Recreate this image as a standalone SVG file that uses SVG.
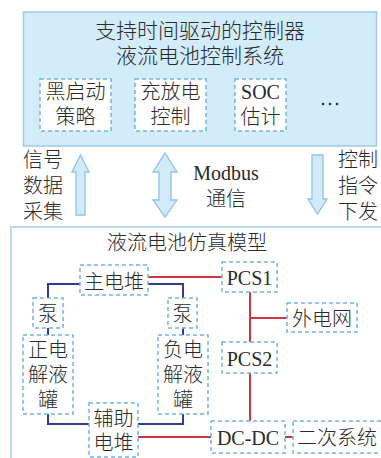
<svg xmlns="http://www.w3.org/2000/svg" width="381" height="458" viewBox="0 0 381 458">
<style>
.t{font-family:"Liberation Serif","Noto Sans CJK SC",serif;font-size:20px;font-weight:300;fill:#2a2a2a;text-anchor:middle}
.e{font-weight:400}
.l{text-anchor:start}
.n{fill:#fff;stroke:#74b3e4;stroke-width:1.5;stroke-dasharray:4 3}
.ar{fill:#d3ebf9;stroke:#8ec2ec;stroke-width:1.3}
.b{fill:none;stroke:#2c3f95;stroke-width:2}
.r{fill:none;stroke:#d0363f;stroke-width:2}
</style>
<rect width="381" height="458" fill="#fff"/>
<g id="controller">
<rect x="23.5" y="12" width="353" height="134" fill="#d3ecf9" stroke="#9fc8ee" stroke-width="1.5"/>
<text class="t" x="200" y="38" style="font-size:21px">支持时间驱动的控制器</text>
<text class="t" x="200" y="63" style="font-size:21px">液流电池控制系统</text>
</g>
<g id="blackstart"><rect class="n" x="40" y="79" width="71" height="52"/><text class="t" x="75.5" y="99">黑启动</text><text class="t" x="75.5" y="124">策略</text></g>
<g id="charge"><rect class="n" x="135" y="79" width="71" height="52"/><text class="t" x="170.5" y="99">充放电</text><text class="t" x="170.5" y="124">控制</text></g>
<g id="soc"><rect class="n" x="235" y="79" width="51" height="52"/><text class="t e" x="260.5" y="99">SOC</text><text class="t" x="260.5" y="124">估计</text></g>
<g id="more"><circle cx="323" cy="104" r="1.3" fill="#333"/><circle cx="330" cy="104" r="1.3" fill="#333"/><circle cx="337" cy="104" r="1.3" fill="#333"/></g>
<g id="arrows">
<path class="ar" d="M76,215 V172 H72 L80.5,155 L89,172 H85 V215 Z"/>
<path class="ar" d="M159,172 H153 L165,153 L177,172 H171 V200 H177 L165,217 L153,200 H159 Z"/>
<path class="ar" d="M312,155 H323 V199 H327 L317.5,214 L308,199 H312 Z"/>
</g>
<g id="labels">
<text class="t l" x="23" y="167">信号</text><text class="t l" x="23" y="193">数据</text><text class="t l" x="23" y="219">采集</text>
<text class="t e" x="226" y="180">Modbus</text><text class="t" x="226" y="206">通信</text>
<text class="t l" x="338" y="167">控制</text><text class="t l" x="338" y="193">指令</text><text class="t l" x="338" y="219">下发</text>
</g>
<g id="model">
<rect x="11" y="227" width="380" height="250" fill="#fff" stroke="#a8cdef" stroke-width="1.5"/>
<text class="t" x="187" y="250">液流电池仿真模型</text>
</g>
<g id="connectors">
<path class="b" d="M80,284 H48 V298 M48,328 V335 M48,414 V424 H89 M138,424 H183 V414 M183,328 V335 M148,284 H183 V298"/>
<path class="r" d="M148,277 H222 M250,292 V342 M250,318 H287 M250,373 V421 M138,437 H211 M285,437 H293"/>
</g>
<g id="mainstack"><rect class="n" x="80" y="265" width="68" height="30"/><text class="t" x="114" y="289">主电堆</text></g>
<g id="pcs1"><rect class="n" x="222" y="262" width="55" height="30"/><text class="t e" x="249.5" y="285">PCS1</text></g>
<g id="pumpL"><rect class="n" x="33" y="298" width="30" height="30"/><text class="t" x="48" y="321">泵</text></g>
<g id="pumpR"><rect class="n" x="168" y="298" width="29" height="30"/><text class="t" x="182.5" y="321">泵</text></g>
<g id="grid"><rect class="n" x="287" y="303" width="70" height="29"/><text class="t" x="322" y="326">外电网</text></g>
<g id="posTank"><rect class="n" x="23" y="335" width="50" height="79"/><text class="t" x="48" y="357">正电</text><text class="t" x="48" y="382">解液</text><text class="t" x="48" y="407">罐</text></g>
<g id="negTank"><rect class="n" x="158" y="335" width="50" height="79"/><text class="t" x="183" y="357">负电</text><text class="t" x="183" y="382">解液</text><text class="t" x="183" y="407">罐</text></g>
<g id="pcs2"><rect class="n" x="222" y="342" width="55" height="31"/><text class="t e" x="249.5" y="366">PCS2</text></g>
<g id="auxStack"><rect class="n" x="89" y="403" width="49" height="54"/><text class="t" x="113.5" y="426">辅助</text><text class="t" x="113.5" y="450">电堆</text></g>
<g id="dcdc"><rect class="n" x="211" y="421" width="74" height="32"/><text class="t e" x="248" y="445">DC-DC</text></g>
<g id="secondary"><rect class="n" x="293" y="421" width="100" height="32"/><text class="t l" x="297" y="445">二次系统</text></g>
</svg>
